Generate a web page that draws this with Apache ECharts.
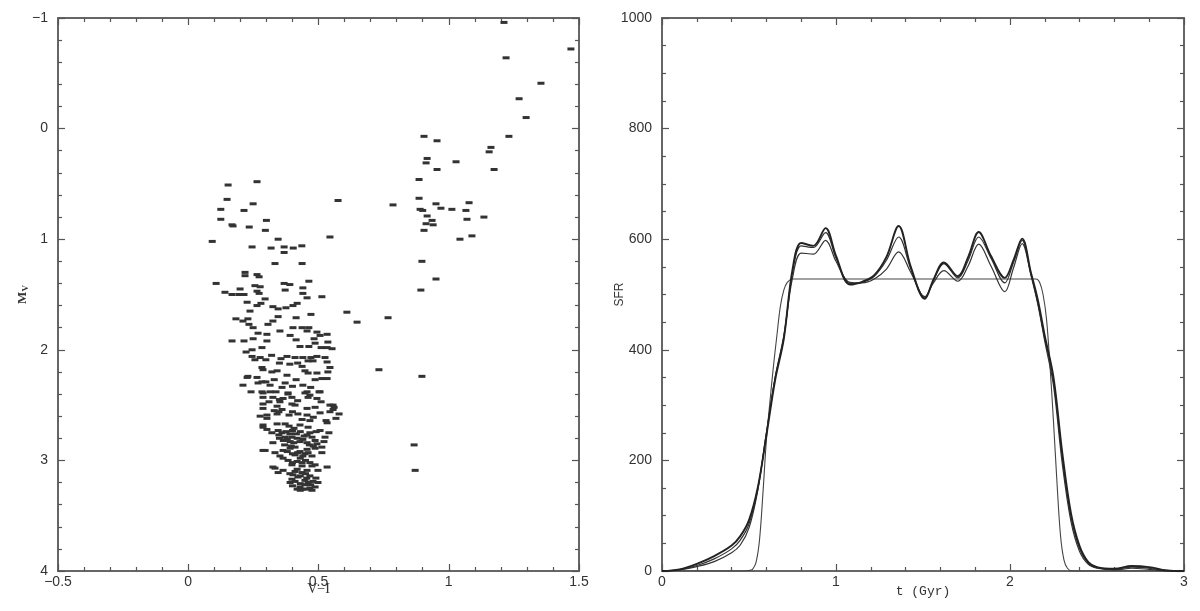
<!DOCTYPE html>
<html><head><meta charset="utf-8">
<script src="https://cdn.jsdelivr.net/npm/echarts@6/dist/echarts.min.js"></script>
<style>html,body{margin:0;padding:0;background:#fff}#c{width:1200px;height:611px}</style>
</head><body><div id="c"></div>
<script>
// ---- Colour–magnitude diagram: [V-I, M_V] ----
const cmdStars = [
 [1.212,-0.96],[1.469,-0.72],[1.22,-0.64],[1.354,-0.41],[1.27,-0.27],[1.297,-0.10],[1.231,0.07],[0.905,0.07],[0.955,0.11],[1.162,0.17],[1.155,0.21],[0.917,0.27],[0.913,0.31],[1.028,0.30],[1.174,0.37],[0.955,0.37],[0.886,0.46],[0.575,0.65],[0.786,0.69],[0.886,0.63],[0.89,0.73],[0.90,0.74],[0.951,0.68],[0.97,0.72],[1.012,0.73],[1.066,0.74],[1.078,0.67],[0.917,0.79],[0.936,0.83],[0.913,0.86],[0.94,0.87],[1.07,0.82],[1.135,0.80],[0.905,0.92],[1.043,1.00],[1.089,0.97],[0.544,0.98],[0.897,1.20],[0.951,1.36],[0.893,1.46],
 [0.609,1.66],[0.648,1.75],[0.767,1.71],[0.732,2.18],[0.897,2.24],[0.867,2.86],[0.871,3.09],[0.579,2.58],[0.556,2.50],[0.556,2.54],
 [0.153,0.51],[0.264,0.48],[0.149,0.64],[0.249,0.68],[0.125,0.73],[0.214,0.74],[0.125,0.82],[0.30,0.83],[0.168,0.87],[0.172,0.88],[0.234,0.89],[0.296,0.92],[0.092,1.02],[0.345,1.00],[0.245,1.07],[0.318,1.08],[0.368,1.07],[0.368,1.12],[0.403,1.08],[0.333,1.22],[0.437,1.22],[0.436,1.06],[0.218,1.30],[0.218,1.33],[0.264,1.32],[0.272,1.34],[0.107,1.40],[0.368,1.40],[0.39,1.41],[0.463,1.38],[0.372,1.46],[0.141,1.48],[0.168,1.50],[0.199,1.45],[0.195,1.50],[0.214,1.50],[0.256,1.42],[0.276,1.43],[0.264,1.47],[0.272,1.49],[0.295,1.54],[0.44,1.44],[0.44,1.49],[0.456,1.53],[0.513,1.52],
 [0.226,1.57],[0.279,1.58],[0.264,1.60],[0.325,1.61],[0.345,1.63],[0.375,1.62],[0.418,1.58],[0.402,1.60],
 [0.237,1.65],[0.183,1.72],[0.210,1.74],[0.229,1.72],[0.233,1.77],[0.306,1.77],[0.325,1.74],[0.345,1.70],[0.414,1.71],[0.471,1.68],
 [0.249,1.80],[0.268,1.85],[0.302,1.86],[0.352,1.83],[0.391,1.87],[0.402,1.80],[0.437,1.80],[0.456,1.83],[0.463,1.80],[0.494,1.84],[0.506,1.87],[0.533,1.86],
 [0.168,1.92],[0.214,1.92],[0.249,1.90],[0.302,1.92],[0.414,1.91],[0.429,1.97],[0.463,1.97],[0.483,1.90],[0.487,1.94],[0.510,1.98],[0.533,1.98],[0.536,1.93],[0.552,1.99],
 [0.222,2.02],[0.245,2.00],[0.283,1.98],[0.245,2.06],[0.276,2.07],[0.298,2.09],[0.256,2.09],[0.356,2.08],[0.379,2.06],[0.410,2.07],[0.440,2.07],[0.471,2.07],[0.494,2.06],[0.525,2.07],[0.460,2.10],[0.479,2.10],[0.533,2.11],
 [0.32,2.05],[0.35,2.12],[0.39,2.13],[0.42,2.12],
 [0.283,2.16],[0.287,2.18],[0.321,2.20],[0.341,2.19],[0.379,2.23],[0.437,2.15],[0.448,2.19],[0.460,2.21],[0.494,2.21],[0.536,2.20],[0.544,2.16],[0.226,2.25],[0.264,2.25],[0.229,2.24],
 [0.210,2.32],[0.268,2.30],[0.283,2.29],[0.298,2.29],[0.314,2.32],[0.372,2.30],[0.414,2.27],[0.487,2.27],[0.513,2.26],[0.533,2.26],[0.241,2.38],[0.283,2.38],[0.314,2.38],[0.337,2.38],[0.383,2.39],[0.456,2.38],[0.502,2.38],
 [0.33,2.27],[0.36,2.34],[0.40,2.33],[0.44,2.32],[0.47,2.34],
 [0.287,2.39],[0.383,2.40],[0.448,2.39],[0.467,2.41],[0.506,2.38],[0.287,2.43],[0.325,2.43],[0.364,2.44],[0.398,2.43],[0.460,2.43],[0.494,2.44],
 [0.35,2.45],[0.42,2.46],[0.31,2.47],[0.51,2.47],
 [0.287,2.49],[0.287,2.53],[0.352,2.47],[0.341,2.51],[0.398,2.49],[0.410,2.50],[0.456,2.53],[0.487,2.52],[0.544,2.50],[0.560,2.52],[0.360,2.54],
 [0.33,2.55],[0.40,2.56],[0.48,2.61],
 [0.276,2.60],[0.302,2.62],[0.341,2.58],[0.348,2.56],[0.387,2.59],[0.421,2.58],[0.437,2.63],[0.456,2.59],[0.467,2.64],[0.506,2.57],[0.544,2.56],[0.567,2.62],[0.529,2.64],[0.302,2.59],
 [0.287,2.68],[0.302,2.72],[0.341,2.67],[0.372,2.67],[0.387,2.69],[0.406,2.71],[0.429,2.68],[0.460,2.70],[0.491,2.74],[0.506,2.73],[0.533,2.66],[0.540,2.75],[0.321,2.75],[0.467,2.75],[0.287,2.70],
 [0.345,2.73],[0.36,2.75],[0.375,2.74],[0.39,2.76],[0.40,2.73],[0.415,2.76],[0.43,2.74],[0.445,2.78],[0.35,2.80],[0.365,2.82],[0.38,2.81],[0.405,2.84],[0.44,2.81],[0.465,2.86],[0.48,2.87],[0.37,2.86],[0.395,2.87],
 [0.348,2.77],[0.372,2.79],[0.398,2.79],[0.418,2.80],[0.456,2.77],[0.475,2.79],[0.391,2.83],[0.429,2.83],[0.456,2.84],[0.487,2.82],[0.494,2.85],[0.525,2.79],[0.521,2.83],[0.325,2.84],
 [0.287,2.91],[0.333,2.93],[0.364,2.91],[0.391,2.89],[0.410,2.88],[0.429,2.92],[0.456,2.90],[0.487,2.89],[0.513,2.88],[0.513,2.93],[0.352,2.96],[0.364,2.98],[0.410,2.95],[0.448,2.94],[0.475,2.96],[0.295,2.91],
 [0.38,2.92],[0.40,2.94],[0.42,2.93],[0.44,2.96],[0.46,2.93],[0.43,2.98],[0.45,3.00],[0.40,3.02],[0.475,3.05],
 [0.383,3.00],[0.418,3.01],[0.437,3.02],[0.467,3.02],[0.398,3.04],[0.437,3.05],[0.487,3.04],[0.533,3.06],[0.333,3.07],[0.364,3.09],[0.418,3.08],[0.456,3.09],[0.498,3.09],[0.325,3.06],
 [0.345,3.11],[0.402,3.13],[0.437,3.11],[0.467,3.14],[0.398,3.17],[0.421,3.15],[0.448,3.18],[0.479,3.19],[0.498,3.20],[0.391,3.20],
 [0.39,3.12],[0.41,3.10],[0.43,3.14],[0.45,3.12],[0.41,3.19],[0.43,3.21],[0.455,3.16],[0.47,3.22],[0.40,3.23],[0.45,3.26],[0.43,3.27],[0.475,3.27],[0.46,3.20],[0.49,3.16],
 [0.429,3.24],[0.448,3.22],[0.467,3.25],[0.437,3.26],[0.487,3.24],[0.418,3.26]
];

// ---- Star formation rate vs time ----
const sfrTime = [0,0.1,0.2,0.3,0.4,0.45,0.5,0.55,0.6,0.65,0.7,0.75,0.8,0.87,0.94,1.0,1.08,1.15,1.22,1.29,1.36,1.43,1.51,1.56,1.62,1.70,1.76,1.82,1.89,1.97,2.02,2.07,2.12,2.16,2.2,2.25,2.3,2.35,2.4,2.45,2.5,2.6,2.7,2.8,2.9,3.0];
const sfrRecA = [0,3,13,27,46,63,92,150,245,345,420,545,593,588,620,570,518,523,535,568,624,550,492,527,558,533,568,613,570,530,562,601,540,490,425,350,215,105,45,16,7,4,9,7,1,0];
const sfrRecB = [0,2,10,22,40,56,85,148,248,348,422,540,588,585,612,566,520,522,533,562,604,546,494,525,556,530,562,604,566,521,558,598,538,485,420,345,205,98,40,14,6,3,7,5,1,0];
const sfrRecC = [0,2,8,17,33,47,78,145,250,350,425,530,575,573,598,560,522,521,528,546,577,540,496,521,543,524,552,591,552,505,548,592,535,482,415,335,195,90,35,12,5,2,5,3,0,0];
const modelTime = [0,0.45,0.5,0.52,0.54,0.56,0.58,0.6,0.62,0.64,0.66,0.68,0.70,0.72,0.75,1.0,1.5,2.0,2.15,2.17,2.19,2.21,2.23,2.25,2.27,2.29,2.31,2.33,2.36,3.0];
const modelSFR  = [0,0,1,3,15,55,140,237,305,369,425,478,508,522,528,528,528,528,528,522,500,455,370,270,160,65,20,5,0,0];

const zip = (xs, ys) => xs.map((x, i) => [x, ys[i]]);
const ink = '#333';
const frame = {color:'#666', width:2};
const tickStyle = {color:'#555', width:1.2};
const lbl = {color:'#333', fontSize:14, fontFamily:'Liberation Sans', formatter: v => String(v).replace('-', '\u2212')};

function axisX(grid, pos, min, max, interval, minor, extra) {
  return Object.assign({
    type:'value', gridIndex:grid, position:pos, min, max, interval,
    axisLine:{show:true, onZero:false, lineStyle:frame},
    axisTick:{show:true, inside:true, length:7, lineStyle:tickStyle},
    minorTick:{show:true, splitNumber:minor, length:4, lineStyle:tickStyle},
    splitLine:{show:false}, minorSplitLine:{show:false},
    axisLabel: pos === 'bottom' ? Object.assign({margin:4}, lbl) : {show:false},
    nameMoveOverlap:false
  }, extra || {});
}
function axisY(grid, pos, min, max, interval, minor, inverse, extra) {
  return Object.assign({
    type:'value', gridIndex:grid, position:pos, min, max, interval, inverse,
    axisLine:{show:true, onZero:false, lineStyle:frame},
    axisTick:{show:true, inside:true, length:7, lineStyle:tickStyle},
    minorTick:{show:true, splitNumber:minor, length:4, lineStyle:tickStyle},
    splitLine:{show:false}, minorSplitLine:{show:false},
    axisLabel: pos === 'left' ? Object.assign({margin:10}, lbl) : {show:false},
    nameMoveOverlap:false
  }, extra || {});
}

const chart = echarts.init(document.getElementById('c'), null, {renderer:'canvas'});
const lineBase = {type:'line', xAxisIndex:2, yAxisIndex:2, smooth:0.35, showSymbol:false, symbol:'none', silent:true};
chart.setOption({
  animation:false,
  backgroundColor:'#fff',
  grid:[
    {left:58, top:18, width:521, height:553, containLabel:false, outerBoundsMode:'none'},
    {left:662, top:18, width:522, height:553, containLabel:false, outerBoundsMode:'none'}
  ],
  xAxis:[
    axisX(0,'bottom',-0.5,1.5,0.5,5,{name:'V\u2212I', nameLocation:'middle', nameGap:11,
      nameTextStyle:{color:'#333', fontSize:14, fontFamily:'Liberation Serif'}}),
    axisX(0,'top',-0.5,1.5,0.5,5),
    axisX(1,'bottom',0,3,1,5,{name:'t (Gyr)', nameLocation:'middle', nameGap:14,
      nameTextStyle:{color:'#333', fontSize:13, fontFamily:'Liberation Mono'}}),
    axisX(1,'top',0,3,1,5)
  ],
  yAxis:[
    axisY(0,'left',-1,4,1,5,true,{name:'{m|M}{s|V}', nameLocation:'middle', nameGap:28, nameRotate:90,
      nameTextStyle:{color:'#333', rich:{m:{fontSize:13, fontWeight:'bold', fontFamily:'Liberation Serif', color:'#333'},
        s:{fontSize:9, fontWeight:'bold', fontFamily:'Liberation Serif', color:'#333', padding:[5,0,0,0]}}}}),
    axisY(0,'right',-1,4,1,5,true),
    axisY(1,'left',0,1000,200,4,false,{name:'SFR', nameLocation:'middle', nameGap:36, nameRotate:90,
      nameTextStyle:{color:'#333', fontSize:12, fontFamily:'Liberation Sans'}}),
    axisY(1,'right',0,1000,200,4,false)
  ],
  series:[
    {type:'scatter', xAxisIndex:0, yAxisIndex:0, data:cmdStars, symbol:'rect', symbolSize:[7,3],
      itemStyle:{color:ink, opacity:1}, silent:true},
    Object.assign({}, lineBase, {data:zip(modelTime, modelSFR), lineStyle:{color:'#444', width:1.1}}),
    Object.assign({}, lineBase, {data:zip(sfrTime, sfrRecC), lineStyle:{color:ink, width:1.2}}),
    Object.assign({}, lineBase, {data:zip(sfrTime, sfrRecB), lineStyle:{color:ink, width:1.2}}),
    Object.assign({}, lineBase, {data:zip(sfrTime, sfrRecA), lineStyle:{color:'#222', width:1.9}})
  ]
});
</script></body></html>
